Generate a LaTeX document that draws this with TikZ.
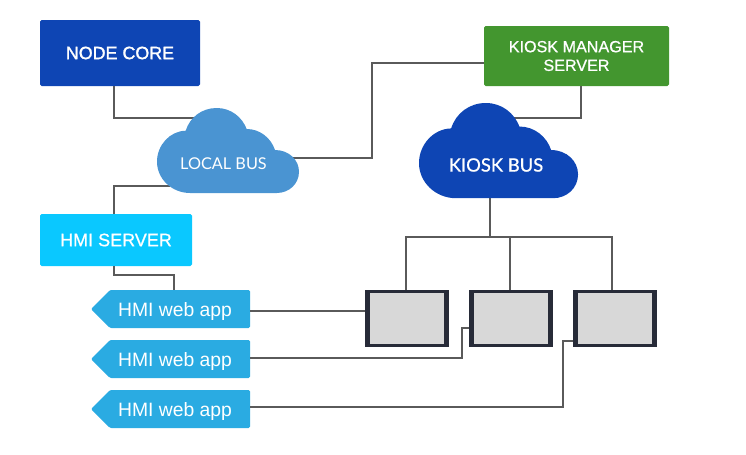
\documentclass[tikz,border=0pt]{standalone}
\usepackage{fontspec}
\usepackage{tikz}
\usetikzlibrary{calc, shapes.symbols}
\setmainfont{Liberation Sans}
\newfontfamily\boxfont[FakeBold=0.8]{Liberation Sans}
\newfontfamily\corefont[FakeBold=1.4]{Liberation Sans}
\newfontfamily\cloudfont{Lato}
\newfontfamily\kioskfont[FakeBold=0.8]{Lato}
\definecolor{CoreBlue}{HTML}{0E45B4}
\definecolor{LocalBlue}{HTML}{4A94D2}
\definecolor{ServerCyan}{HTML}{0AC8FF}
\definecolor{ManagerGreen}{HTML}{43962F}
\definecolor{AppBlue}{HTML}{2AABE2}
\definecolor{WireGray}{HTML}{5A5A5A}
\definecolor{ScreenEdge}{HTML}{272B38}
\definecolor{ScreenFill}{HTML}{D8D8D8}
\newcommand{\buscloud}[4]{%
  \fill[#4, shift={(#1,#2)}, scale=#3] (33,85) .. controls (15,85) and (0,71) .. (0,53.7)
    .. controls (0,37) and (13,23) .. (28.7,22.7) .. controls (33,9) and (45,0) .. (59.7,0)
    .. controls (74,0) and (85,9) .. (89.7,21) .. controls (103,21) and (114,30) .. (118,42)
    .. controls (132,42) and (142,52) .. (142,63.7) .. controls (142,76) and (132,85) .. (119.7,85) -- cycle;}
\begin{document}
\begin{tikzpicture}[x=0.75pt, y=-0.75pt,
    boxnode/.style={rectangle, rounded corners=1.2pt, inner sep=0pt, outer sep=0pt, align=center, text=white},
    appnode/.style={signal, signal to=west, signal pointer angle=90, fill=AppBlue, text=white, rounded corners=1pt,
      minimum width=119.25pt, minimum height=28.5pt, inner sep=0pt, outer sep=0pt, text depth=0pt,
      font=\fontsize{14.5pt}{16pt}\selectfont, execute at begin node=\hspace*{-7.5pt}, anchor=east},
    screennode/.style={rectangle, fill=ScreenEdge, inner sep=0pt, outer sep=0pt, minimum width=63pt, minimum height=42.75pt,
      path picture={\fill[ScreenFill] ($(path picture bounding box.south west)+(3.75pt,2.6pt)$) rectangle ($(path picture bounding box.north east)-(3.75pt,2.6pt)$);}},
    cloudlabel/.style={text=white, inner sep=0pt},
    wire/.style={draw=WireGray, line width=1pt}]
    \useasboundingbox (0,0) rectangle (746,454);

    % Boxes
    \node[boxnode, fill=CoreBlue, minimum width=120pt, minimum height=49.5pt, font=\corefont\fontsize{13.4pt}{15pt}\selectfont] (nodecore) at (120,53) {NODE CORE};
    \node[boxnode, fill=ServerCyan, minimum width=114pt, minimum height=39pt, font=\boxfont\fontsize{13.5pt}{15pt}\selectfont] (hmiserver) at (116,240) {HMI SERVER};
    \node[boxnode, fill=ManagerGreen, minimum width=138.75pt, minimum height=45pt, font=\boxfont\fontsize{12.1pt}{14pt}\selectfont] (manager) at (576.5,56) {KIOSK MANAGER\\SERVER};

    % Web apps
    \node[appnode] (webappa) at (250,309) {HMI web app};
    \node[appnode] (webappb) at (250,359) {HMI web app};
    \node[appnode] (webappc) at (250,409) {HMI web app};

    % Screens
    \node[screennode] (screena) at (407,318.5) {};
    \node[screennode] (screenb) at (511,318.5) {};
    \node[screennode] (screenc) at (615,318.5) {};

    % Cloud ends of the wires
    \coordinate (localtop) at (195,118);
    \coordinate (localleft) at (170,186);
    \coordinate (localright) at (290,158);
    \coordinate (kiosktop) at (510,118);
    \coordinate (kioskfoot) at (490,198);
    \coordinate (fork) at (490,237);

    % Wires
    \draw[wire] (nodecore.south -| 114,0) |- (localtop);
    \draw[wire] (hmiserver.north -| 114,0) |- (localleft);
    \draw[wire] (localright) -| (372,63) -- (manager.west |- 0,63);
    \draw[wire] (manager.south -| 581,0) |- (kiosktop);
    \draw[wire] (kioskfoot) -- (fork);
    \draw[wire] (fork) -| (screena.north -| 406,0);
    \draw[wire] (fork) -| (screenb.north -| 510,0);
    \draw[wire] (fork) -| (screenc.north -| 612,0);
    \draw[wire] (hmiserver.south -| 114,0) |- (174,275) -- (webappa.north -| 174,0);
    \draw[wire] (webappa.east |- 0,311) -- (screena.west |- 0,311);
    \draw[wire] (webappb.east |- 0,358) -| (462,328) -- (screenb.west |- 0,328);
    \draw[wire] (webappc.east |- 0,407) -| (563,341) -- (screenc.west |- 0,341);

    % Clouds
    \buscloud{157}{108}{1}{LocalBlue}
    \buscloud{419}{103}{1.12}{CoreBlue}
    \node[cloudlabel, font=\cloudfont\fontsize{12.2pt}{14pt}\selectfont] (localbus) at (223.5,164) {LOCAL BUS};
    \node[cloudlabel, font=\kioskfont\fontsize{13.8pt}{15pt}\selectfont] (kioskbus) at (496,165) {KIOSK BUS};
\end{tikzpicture}
\end{document}
